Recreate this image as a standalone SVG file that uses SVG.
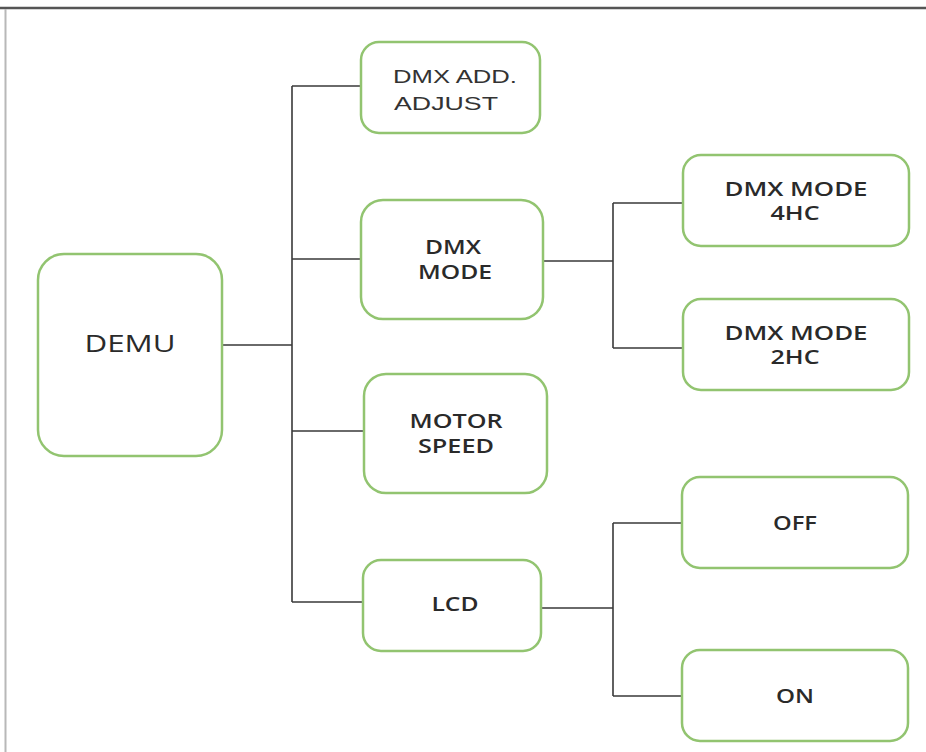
<svg xmlns="http://www.w3.org/2000/svg" width="926" height="752" viewBox="0 0 926 752">
<style>
.box{fill:#fff;stroke:#92c470;stroke-width:2.5}
.t{font-family:"Open Sans","Liberation Sans",sans-serif;font-size:19px;font-weight:600;fill:#2a2a2a;text-anchor:middle}
.a{font-family:"Liberation Sans",Arial,sans-serif;font-size:19px;fill:#333;text-anchor:middle}
.big{font-family:"Open Sans","Liberation Sans",sans-serif;font-size:24px;font-weight:400;fill:#2a2a2a;text-anchor:middle}
.c{fill:none;stroke:#3a3a3a;stroke-width:1.6}
</style>
<rect width="926" height="752" fill="#fff"/>
<line x1="0" y1="8" x2="926" y2="8" stroke="#555" stroke-width="2.5"/>
<line x1="5.5" y1="9" x2="5.5" y2="752" stroke="#b8b8b8" stroke-width="2"/>
<g id="connectors">
<path class="c" d="M222 345H292M292 86V602M292 86H361M292 259H361M292 431H364M292 602H363"/>
<path class="c" d="M543 261H613M613 203V348M613 203H683M613 348H683"/>
<path class="c" d="M541 608H613M613 523V696M613 523H682M613 696H682"/>
</g>
<g id="demu"><rect class="box" x="38" y="254" width="184" height="202" rx="26"/><text class="big" x="130" y="352" textLength="91" lengthAdjust="spacingAndGlyphs">DEMU</text></g>
<g id="dmx-add"><rect class="box" x="361" y="42" width="179" height="91" rx="18"/><text class="a" x="455" y="83" textLength="124" lengthAdjust="spacingAndGlyphs">DMX ADD.</text><text class="a" x="446" y="110" textLength="104" lengthAdjust="spacingAndGlyphs">ADJUST</text></g>
<g id="dmx-mode"><rect class="box" x="361" y="200" width="182" height="119" rx="22"/><text class="t" x="453" y="254" textLength="56" lengthAdjust="spacingAndGlyphs">DMX</text><text class="t" x="455" y="279" textLength="74" lengthAdjust="spacingAndGlyphs">MODE</text></g>
<g id="motor-speed"><rect class="box" x="364" y="374" width="183" height="119" rx="22"/><text class="t" x="456" y="428" textLength="93" lengthAdjust="spacingAndGlyphs">MOTOR</text><text class="t" x="456" y="453" textLength="76" lengthAdjust="spacingAndGlyphs">SPEED</text></g>
<g id="lcd"><rect class="box" x="363" y="560" width="178" height="91" rx="18"/><text class="t" x="455" y="611" textLength="47" lengthAdjust="spacingAndGlyphs">LCD</text></g>
<g id="mode-4hc"><rect class="box" x="683" y="155" width="226" height="91" rx="18"/><text class="t" x="796" y="196" textLength="143" lengthAdjust="spacingAndGlyphs">DMX MODE</text><text class="t" x="795" y="220" textLength="49" lengthAdjust="spacingAndGlyphs">4HC</text></g>
<g id="mode-2hc"><rect class="box" x="683" y="299" width="226" height="91" rx="18"/><text class="t" x="796" y="340" textLength="143" lengthAdjust="spacingAndGlyphs">DMX MODE</text><text class="t" x="795" y="364" textLength="49" lengthAdjust="spacingAndGlyphs">2HC</text></g>
<g id="off"><rect class="box" x="682" y="477" width="226" height="91" rx="18"/><text class="t" x="795" y="530" textLength="44" lengthAdjust="spacingAndGlyphs">OFF</text></g>
<g id="on"><rect class="box" x="682" y="650" width="226" height="91" rx="18"/><text class="t" x="795" y="703" textLength="38" lengthAdjust="spacingAndGlyphs">ON</text></g>
</svg>
